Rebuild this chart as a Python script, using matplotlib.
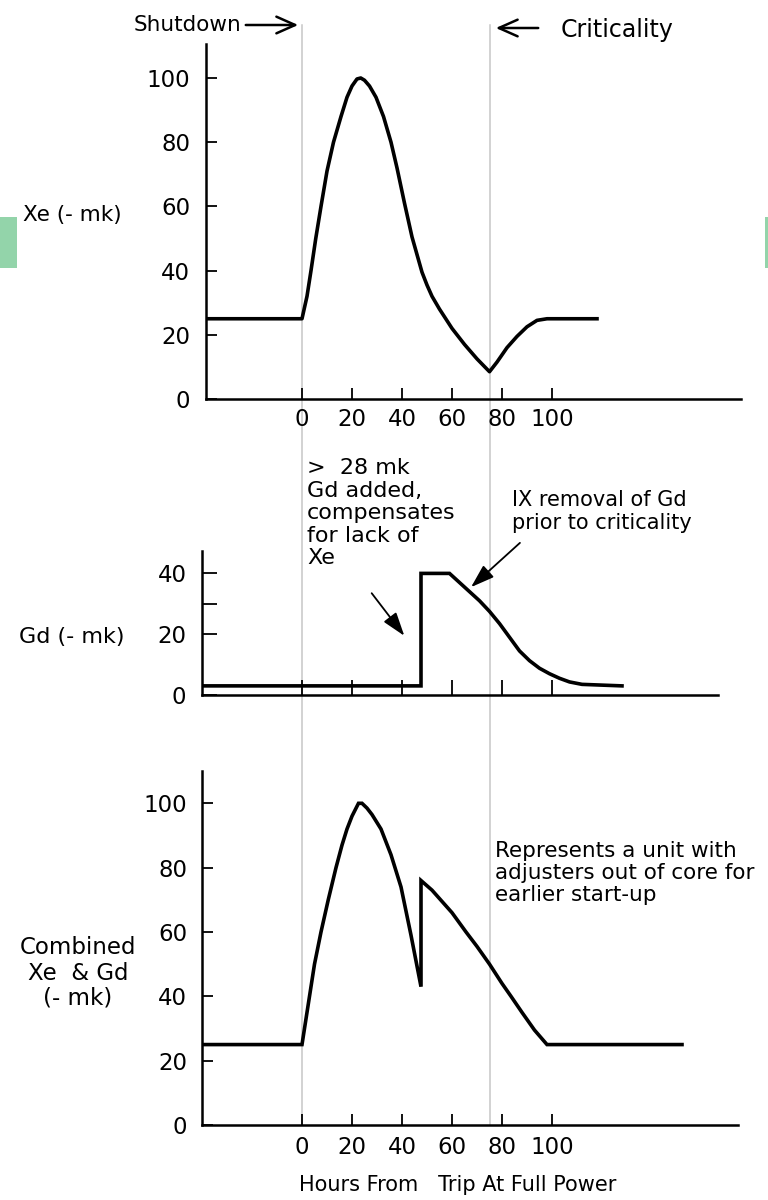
import matplotlib
matplotlib.use("Agg")
import matplotlib.pyplot as plt
import matplotlib.transforms as mtransforms
from matplotlib.lines import Line2D
from matplotlib.patches import Rectangle

plt.rcParams['font.family'] = ['DejaVu Sans']

# values (hours from trip, -mk)
xe_hours = [-38.8, 0, 2, 3.6, 5.5, 7.6, 10, 12.6, 15.6, 18, 20, 22, 23.5, 25, 27, 29.6, 32.6,
            35.6, 38, 41, 44, 46, 48, 50, 52, 55, 60, 65, 70, 75, 78, 82, 86, 90, 94, 98, 118]
xe_values = [25, 25, 32, 40, 50, 60, 71, 80, 88, 94, 97.5, 99.7, 100, 99.3, 97.5, 94, 88,
             80, 72, 61, 50.5, 45, 39.5, 35.5, 32, 28, 22, 17, 12.5, 8.5, 11.5, 16, 19.5,
             22.5, 24.5, 25, 25]

gd_hours = [-40.1, 47.6, 47.6, 59, 63, 67, 71, 75, 79, 83, 87, 91, 95, 99, 103, 107, 112, 128]
gd_values = [3, 3, 40, 40, 37, 34, 31, 27.5, 23.5, 19, 14.5, 11.3, 8.8, 7, 5.5, 4.3, 3.5, 3]

comb_hours = [-39.9, 0, 3, 5, 7.6, 10.5, 13.6, 16, 18, 20, 22.6, 24, 26, 28, 31.6, 35.6,
              39.6, 43.6, 47.6, 47.6, 52, 56, 60, 65.6, 70, 75, 80, 83.6, 88, 93, 98, 152]
comb_values = [25, 25, 40, 50, 60, 70, 80, 87, 92, 96, 100, 100, 98.5, 96.5, 92, 84,
               74, 59, 43, 76, 73, 69.5, 66, 60, 55.5, 50, 44, 40, 35, 29.5, 25, 25]

hour_ticks = [0, 20, 40, 60, 80, 100]
mk_ticks = [0, 20, 40, 60, 80, 100]
gd_ticks = [0, 20, 30, 40]
gd_tick_labels = ['0', '20', '', '40']
shutdown_hour = 0
critical_hour = 75

W, H = 768, 1200
X0 = 302      # pixel of hour 0
PXH = 2.5     # pixels per hour


def fx(px):
    return px / W


def fy(py):
    return 1 - py / H


fig = plt.figure(figsize=(W / 100, H / 100), dpi=100)


def add_panel(left, right, base, top, scale, ticklen):
    ax = fig.add_axes([fx(left), fy(base), (right - left) / W, (base - top) / H])
    ax.set_xlim((left - X0) / PXH, (right - X0) / PXH)
    ax.set_ylim(0, (base - top) / scale)
    ax.spines[['top', 'right']].set_visible(False)
    ax.spines[['left', 'bottom']].set_linewidth(1.8)
    ax.patch.set_alpha(0)
    ax.tick_params(direction='in', length=ticklen, width=1.3, labelsize=16.5)
    ax.tick_params(axis='y', pad=11)
    return ax


ax1 = add_panel(205.5, 741, 399, 44, 3.21, 8)
ax1.plot(xe_hours, xe_values, color='black', lw=2.6, solid_joinstyle='round')
ax1.set_xticks(hour_ticks)
ax1.set_yticks(mk_ticks)
ax1.tick_params(axis='x', pad=6.5)

ax2 = add_panel(201.7, 718, 695, 550.7, 3.04, 11)
ax2.plot(gd_hours, gd_values, color='black', lw=2.6, solid_joinstyle='miter')
ax2.set_xticks(hour_ticks)
ax2.set_xticklabels([])
ax2.set_yticks(gd_ticks)
ax2.set_yticklabels(gd_tick_labels)

ax3 = add_panel(202.3, 737.5, 1125, 770.7, 3.217, 8)
ax3.plot(comb_hours, comb_values, color='black', lw=2.6, solid_joinstyle='miter')
ax3.set_xticks(hour_ticks)
ax3.set_yticks(mk_ticks)
ax3.tick_params(axis='x', pad=8)

# thin grey guide lines through all three panels
trans = mtransforms.blended_transform_factory(ax1.transData, fig.transFigure)
for h in [shutdown_hour, critical_hour]:
    fig.add_artist(Line2D([h, h], [fy(25), fy(1125)], transform=trans,
                          color='#c6c6c6', lw=1.1, zorder=-1))

# slide artefacts at the edges
fig.add_artist(Rectangle((0, fy(268)), fx(17), 51 / H, transform=fig.transFigure,
                         color='#93d4aa', lw=0))
fig.add_artist(Rectangle((fx(765), fy(268)), fx(3), 51 / H, transform=fig.transFigure,
                         color='#93d4aa', lw=0))

big_head = dict(arrowstyle='->,head_length=0.9,head_width=0.4', lw=1.8, color='black',
                mutation_scale=15)
thin_head = dict(arrowstyle='-|>,head_length=0.9,head_width=0.3', lw=1.3, color='black',
                 mutation_scale=16)

# labels
fig.text(fx(241), fy(25), 'Shutdown', ha='right', va='center', fontsize=15.5)
fig.text(fx(561), fy(30), 'Criticality', ha='left', va='center', fontsize=17)
ax1.annotate('', xy=(fx(301), fy(25)), xytext=(fx(243), fy(25)),
             xycoords='figure fraction', textcoords='figure fraction', arrowprops=big_head)
ax1.annotate('', xy=(fx(493), fy(28)), xytext=(fx(541), fy(28)),
             xycoords='figure fraction', textcoords='figure fraction', arrowprops=big_head)

fig.text(fx(72), fy(215), 'Xe (- mk)', ha='center', va='center', fontsize=15.5)
fig.text(fx(72), fy(637), 'Gd (- mk)', ha='center', va='center', fontsize=16)
fig.text(fx(78), fy(973), 'Combined\nXe  & Gd\n(- mk)', ha='center', va='center',
         fontsize=16.5, linespacing=1.12)

fig.text(fx(307), fy(458), '>  28 mk\nGd added,\ncompensates\nfor lack of\nXe',
         ha='left', va='top', fontsize=16, linespacing=1.16)
fig.text(fx(512), fy(490), 'IX removal of Gd\nprior to criticality',
         ha='left', va='top', fontsize=15, linespacing=1.16)
ax2.annotate('', xy=(fx(406), fy(638)), xytext=(fx(370), fy(591)),
             xycoords='figure fraction', textcoords='figure fraction', arrowprops=thin_head)
ax2.annotate('', xy=(fx(469), fy(589)), xytext=(fx(522), fy(541)),
             xycoords='figure fraction', textcoords='figure fraction', arrowprops=thin_head)

fig.text(fx(495), fy(841), 'Represents a unit with\nadjusters out of core for\nearlier start-up',
         ha='left', va='top', fontsize=15.5, linespacing=1.12)

fig.text(fx(458), fy(1185), 'Hours From   Trip At Full Power', ha='center', va='center',
         fontsize=15)

fig.savefig('out.png', dpi=100)
